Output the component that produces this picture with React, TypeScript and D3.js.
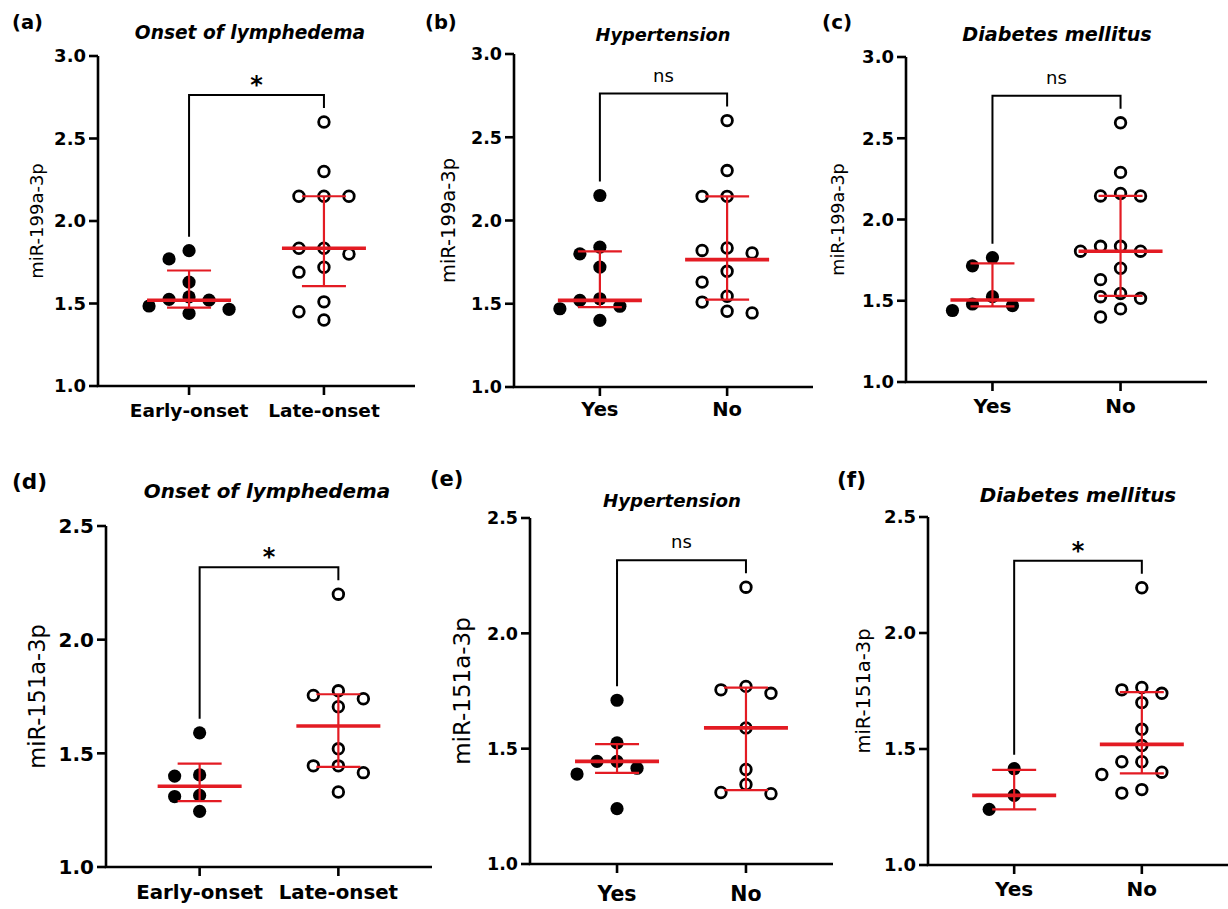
import React from "react"
import * as d3 from "d3"

const panelLetters = ["(a)", "(b)", "(c)", "(d)", "(e)", "(f)"]
const panelTitles = [
  "Onset of lymphedema",
  "Hypertension",
  "Diabetes mellitus",
  "Onset of lymphedema",
  "Hypertension",
  "Diabetes mellitus",
]
const yAxisLabels = ["miR-199a-3p", "miR-199a-3p", "miR-199a-3p", "miR-151a-3p", "miR-151a-3p", "miR-151a-3p"]
const onsetGroups = ["Early-onset", "Late-onset"]
const yesNoGroups = ["Yes", "No"]
const sigLabels = ["*", "ns", "ns", "*", "ns", "*"]
const ticks199 = [1.0, 1.5, 2.0, 2.5, 3.0]
const ticks151 = [1.0, 1.5, 2.0, 2.5]

// miR-199a-3p
const onset199Early = [1.82, 1.77, 1.63, 1.54, 1.525, 1.52, 1.485, 1.465, 1.44]
const onset199Late = [2.6, 2.3, 2.15, 2.15, 2.15, 1.835, 1.835, 1.8, 1.72, 1.69, 1.51, 1.45, 1.4]
const htn199Yes = [2.15, 1.84, 1.8, 1.72, 1.53, 1.52, 1.485, 1.47, 1.4]
const htn199No = [2.6, 2.3, 2.145, 2.145, 1.835, 1.82, 1.805, 1.695, 1.63, 1.545, 1.51, 1.455, 1.445]
const dm199Yes = [1.765, 1.715, 1.525, 1.48, 1.47, 1.44]
const dm199No = [2.595, 2.29, 2.16, 2.145, 2.145, 1.835, 1.835, 1.805, 1.805, 1.7, 1.63, 1.545, 1.525, 1.515, 1.45, 1.4]

// miR-151a-3p
const onset151Early = [1.59, 1.405, 1.4, 1.315, 1.31, 1.245]
const onset151Late = [2.2, 1.775, 1.755, 1.74, 1.705, 1.52, 1.445, 1.445, 1.415, 1.33]
const htn151Yes = [1.71, 1.525, 1.445, 1.445, 1.415, 1.39, 1.24]
const htn151No = [2.2, 1.77, 1.755, 1.74, 1.59, 1.41, 1.345, 1.31, 1.305]
const dm151Yes = [1.415, 1.3, 1.24]
const dm151No = [2.195, 1.765, 1.755, 1.74, 1.7, 1.585, 1.515, 1.445, 1.445, 1.4, 1.39, 1.325, 1.31]

// median, q1, q3 (red bars)
const onset199Stats = [[1.52, 1.475, 1.7], [1.835, 1.605, 2.15]]
const htn199Stats = [[1.52, 1.48, 1.815], [1.765, 1.525, 2.145]]
const dm199Stats = [[1.505, 1.465, 1.73], [1.805, 1.53, 2.145]]
const onset151Stats = [[1.355, 1.29, 1.455], [1.62, 1.44, 1.76]]
const htn151Stats = [[1.445, 1.395, 1.52], [1.59, 1.32, 1.765]]
const dm151Stats = [[1.3, 1.24, 1.41], [1.52, 1.395, 1.745]]

const panels = [
  { groups: onsetGroups, values: [onset199Early, onset199Late], stats: onset199Stats, ticks: ticks199 },
  { groups: yesNoGroups, values: [htn199Yes, htn199No], stats: htn199Stats, ticks: ticks199 },
  { groups: yesNoGroups, values: [dm199Yes, dm199No], stats: dm199Stats, ticks: ticks199 },
  { groups: onsetGroups, values: [onset151Early, onset151Late], stats: onset151Stats, ticks: ticks151 },
  { groups: yesNoGroups, values: [htn151Yes, htn151No], stats: htn151Stats, ticks: ticks151 },
  { groups: yesNoGroups, values: [dm151Yes, dm151No], stats: dm151Stats, ticks: ticks151 },
]

// where each panel sits on the page
const layouts = [
  { left: 98, right: 415, top: 56, bottom: 386, letterX: 12, letterY: 29, letterFont: 19.5, titleX: 250, titleY: 39, titleFont: 18.6, labelX: 37, labelFont: 18, tickFont: 18, catFont: 18.5, catDy: 31 },
  { left: 514, right: 813, top: 54, bottom: 387, letterX: 425, letterY: 29, letterFont: 19.5, titleX: 663, titleY: 41, titleFont: 17.8, labelX: 448, labelFont: 19.5, tickFont: 17.5, catFont: 19.5, catDy: 29 },
  { left: 906, right: 1207, top: 57, bottom: 382, letterX: 822, letterY: 29, letterFont: 20, titleX: 1057, titleY: 41, titleFont: 19.2, labelX: 838, labelFont: 17.5, tickFont: 18, catFont: 20, catDy: 31 },
  { left: 106, right: 432, top: 526, bottom: 867, letterX: 12, letterY: 489, letterFont: 21.5, titleX: 267, titleY: 498, titleFont: 19.9, labelX: 37, labelFont: 22.5, tickFont: 20, catFont: 19.8, catDy: 32 },
  { left: 530, right: 833, top: 518, bottom: 864, letterX: 430, letterY: 486, letterFont: 21, titleX: 672, titleY: 507, titleFont: 18.2, labelX: 462, labelFont: 23, tickFont: 17.5, catFont: 20.5, catDy: 37 },
  { left: 928, right: 1228, top: 517, bottom: 865, letterX: 837, letterY: 487, letterFont: 21.5, titleX: 1078, titleY: 502, titleFont: 19.9, labelX: 863, labelFont: 19.5, tickFont: 18, catFont: 20, catDy: 31 },
]

const FONT = "DejaVu Sans"
const RED = "#e31b23"

// greedy column scatter, highest value first, on a fixed horizontal grid
function swarm(values: number[], y: (v: number) => number, step = 25, minDy = 14, maxHalf = 40) {
  const placed: { off: number; y: number }[] = []
  const offsets: number[] = new Array(values.length).fill(0)
  const order = d3.range(values.length).sort((a, b) => values[b] - values[a])
  order.forEach((i) => {
    const py = y(values[i])
    for (let k = 0; k < 30; k++) {
      const off = k === 0 ? 0 : (k % 2 ? -1 : 1) * Math.ceil(k / 2) * step
      const hit = placed.some((p) => Math.abs(p.off - off) < step * 0.9 && Math.abs(p.y - py) < minDy)
      if (!hit) {
        offsets[i] = off
        placed.push({ off, y: py })
        break
      }
    }
  })
  const widest = d3.max(offsets, (o) => Math.abs(o)) || 0
  const k = widest > maxHalf ? maxHalf / widest : 1
  return offsets.map((o) => o * k)
}

const Panel = ({ i }: { i: number }) => {
  const d = panels[i]
  const L = layouts[i]
  const y = d3.scaleLinear().domain([1, d3.max(d.ticks) as number]).range([L.bottom, L.top])
  const x = d3.scalePoint().domain(d.groups).range([L.left, L.right]).padding(0.675)
  const [x1, x2] = d.groups.map((g) => x(g) as number)
  const legs = d.values.map((v) => y(d3.max(v) as number) - 14)
  const bracketTop = Math.min(...legs) - 13
  const sig = sigLabels[i]

  return (
    <g>
      <text x={L.letterX} y={L.letterY} fontSize={L.letterFont} fontWeight="bold" fontFamily={FONT}>
        {panelLetters[i]}
      </text>
      <text
        x={L.titleX}
        y={L.titleY}
        fontSize={L.titleFont}
        fontWeight="bold"
        fontStyle="italic"
        textAnchor="middle"
        fontFamily={FONT}
      >
        {panelTitles[i]}
      </text>
      <text
        transform={`translate(${L.labelX}, ${(L.top + L.bottom) / 2}) rotate(-90)`}
        textAnchor="middle"
        dy="0.35em"
        fontSize={L.labelFont}
        fontFamily={FONT}
      >
        {yAxisLabels[i]}
      </text>

      {/* axes */}
      <path
        d={`M${L.left},${y(d3.max(d.ticks) as number)}V${L.bottom}H${L.right}`}
        fill="none"
        stroke="black"
        strokeWidth={2.6}
      />
      {d.ticks.map((t) => (
        <g key={t} transform={`translate(0, ${y(t)})`}>
          <line x1={L.left - 9} x2={L.left} stroke="black" strokeWidth={2.6} />
          <text
            x={L.left - 12}
            dy="0.36em"
            textAnchor="end"
            fontSize={L.tickFont}
            fontWeight="bold"
            fontFamily={FONT}
          >
            {t.toFixed(1)}
          </text>
        </g>
      ))}
      {d.groups.map((g) => (
        <g key={g} transform={`translate(${x(g)}, ${L.bottom})`}>
          <line y2={9} stroke="black" strokeWidth={2.6} />
          <text y={L.catDy} textAnchor="middle" fontSize={L.catFont} fontWeight="bold" fontFamily={FONT}>
            {g}
          </text>
        </g>
      ))}

      {/* significance bracket */}
      <path
        d={`M${x1},${legs[0]}V${bracketTop}H${x2}V${legs[1]}`}
        fill="none"
        stroke="black"
        strokeWidth={2}
      />
      <text
        x={(x1 + x2) / 2}
        y={sig === "*" ? bracketTop - 2 : bracketTop - 12}
        textAnchor="middle"
        fontSize={sig === "*" ? 24 : 18}
        fontWeight={sig === "*" ? "bold" : "normal"}
        fontFamily={FONT}
      >
        {sig}
      </text>

      {/* points */}
      {d.values.map((vals, gi) => {
        const offs = swarm(vals, y)
        const cx = x(d.groups[gi]) as number
        return vals.map((v, j) =>
          gi === 0 ? (
            <circle key={`${gi}-${j}`} cx={cx + offs[j]} cy={y(v)} r={6.6} fill="black" />
          ) : (
            <circle
              key={`${gi}-${j}`}
              cx={cx + offs[j]}
              cy={y(v)}
              r={5.3}
              fill="white"
              stroke="black"
              strokeWidth={2.8}
            />
          )
        )
      })}

      {/* median with interquartile range */}
      {d.stats.map(([med, q1, q3], gi) => {
        const cx = x(d.groups[gi]) as number
        return (
          <g key={gi} stroke={RED}>
            <line x1={cx} x2={cx} y1={y(q3)} y2={y(q1)} strokeWidth={2.2} />
            <line x1={cx - 22} x2={cx + 22} y1={y(q3)} y2={y(q3)} strokeWidth={2.2} />
            <line x1={cx - 22} x2={cx + 22} y1={y(q1)} y2={y(q1)} strokeWidth={2.2} />
            <line x1={cx - 42} x2={cx + 42} y1={y(med)} y2={y(med)} strokeWidth={3.6} />
          </g>
        )
      })}
    </g>
  )
}

const App = () => {
  return (
    <svg
      width={1228}
      height={909}
      style={{ position: "absolute", left: 0, top: 0, background: "white" }}
    >
      <rect width={1228} height={909} fill="white" />
      {panels.map((_, i) => (
        <Panel key={i} i={i} />
      ))}
    </svg>
  )
}

export default App
